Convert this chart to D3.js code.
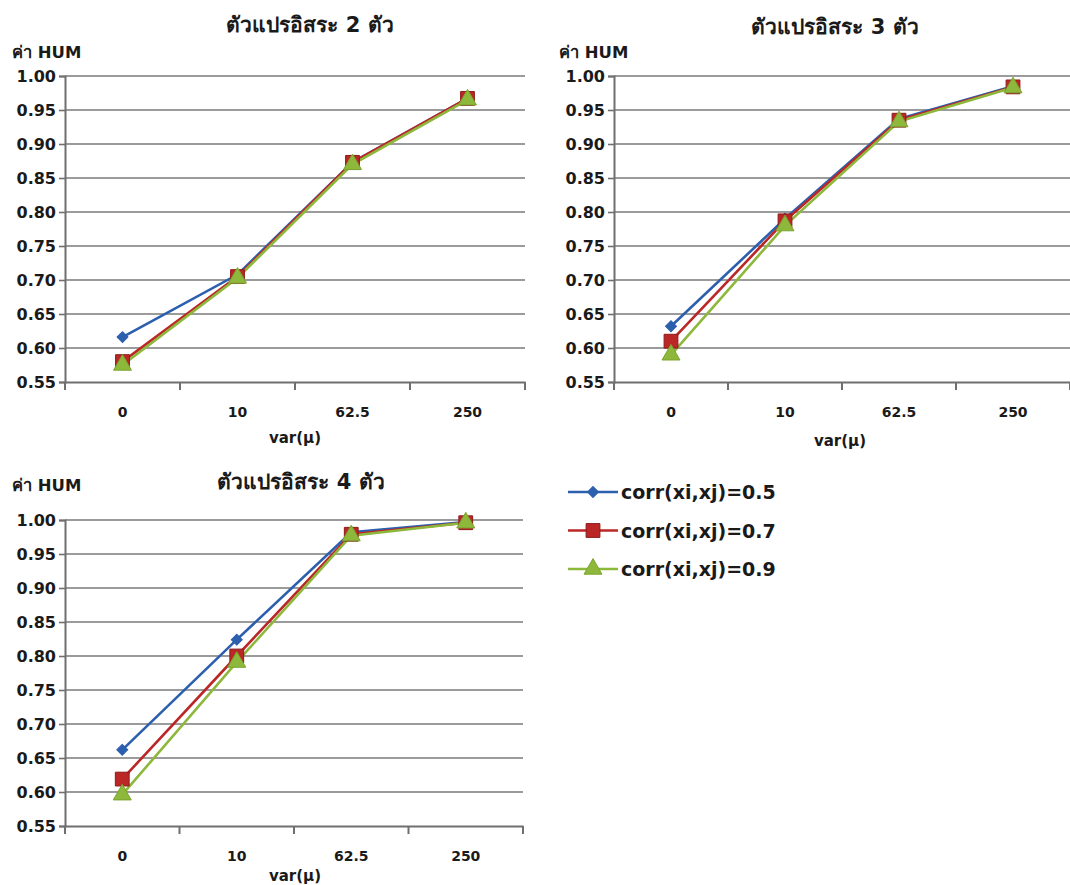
<!DOCTYPE html>
<html>
<head>
<meta charset="utf-8">
<script src="https://cdn.jsdelivr.net/npm/d3@7"></script>
<style>
  html, body { margin: 0; padding: 0; background: #fff; }
  svg { display: block; }
  text { font-family: "DejaVu Sans", "Noto Sans", sans-serif; fill: #1a1a1a; }
</style>
</head>
<body>
<svg id="chart" width="1070" height="885"></svg>
<script>
// Categories on the x axis: variance of mu
const categories = ["0", "10", "62.5", "250"];
const yTicks = [0.55, 0.60, 0.65, 0.70, 0.75, 0.80, 0.85, 0.90, 0.95, 1.00];
const seriesNames = ["corr(xi,xj)=0.5", "corr(xi,xj)=0.7", "corr(xi,xj)=0.9"];

// HUM values, 2 independent variables
const hum2_r05 = [0.616, 0.708, 0.873, 0.967];
const hum2_r07 = [0.580, 0.705, 0.873, 0.967];
const hum2_r09 = [0.575, 0.703, 0.870, 0.965];

// HUM values, 3 independent variables
const hum3_r05 = [0.632, 0.790, 0.937, 0.985];
const hum3_r07 = [0.610, 0.787, 0.935, 0.984];
const hum3_r09 = [0.590, 0.780, 0.933, 0.983];

// HUM values, 4 independent variables
const hum4_r05 = [0.662, 0.824, 0.982, 0.997];
const hum4_r07 = [0.619, 0.800, 0.979, 0.996];
const hum4_r09 = [0.596, 0.791, 0.977, 0.996];

const titles = ["ตัวแปรอิสระ 2 ตัว", "ตัวแปรอิสระ 3 ตัว", "ตัวแปรอิสระ 4 ตัว"];

const colors = ["#2c5fae", "#bb2727", "#8db83c"];
const strokes = ["#2c5fae", "#8e1a1a", "#7aa52e"];

// marker generators: rotated square (diamond), square, triangle
const markers = [
  sel => sel.attr("d", d3.symbol().type(d3.symbolSquare).size(60)()).attr("data-rot", 45),
  sel => sel.attr("d", d3.symbol().type(d3.symbolSquare).size(190)()).attr("data-rot", 0),
  sel => sel.attr("d", d3.symbol().type(d3.symbolTriangle).size(140)()).attr("data-rot", 0)
];

const svg = d3.select("#chart");

const panels = [
  { data: [hum2_r05, hum2_r07, hum2_r09], title: titles[0],
    x0: 65, x1: 525, yTop: 76, yBot: 382,
    titleX: 310, titleY: 32, yLabX: 12, yLabY: 58, xLabX: 295, xLabY: 443 },
  { data: [hum3_r05, hum3_r07, hum3_r09], title: titles[1],
    x0: 614, x1: 1070, yTop: 76, yBot: 382,
    titleX: 835, titleY: 34, yLabX: 559, yLabY: 58, xLabX: 840, xLabY: 446 },
  { data: [hum4_r05, hum4_r07, hum4_r09], title: titles[2],
    x0: 65, x1: 523, yTop: 520, yBot: 826,
    titleX: 301, titleY: 489, yLabX: 12, yLabY: 491, xLabX: 295, xLabY: 881 }
];

panels.forEach(p => {
  const g = svg.append("g");
  const x = d3.scaleBand().domain(categories).range([p.x0, p.x1]);
  const y = d3.scaleLinear().domain([0.55, 1.0]).range([p.yBot, p.yTop]);

  // horizontal gridlines
  g.append("g").selectAll("line").data(yTicks.slice(1)).join("line")
    .attr("x1", p.x0).attr("x2", p.x1)
    .attr("y1", d => y(d)).attr("y2", d => y(d))
    .attr("stroke", "#7a7a7a").attr("stroke-width", 1.6);

  // y axis
  const yAxis = g.append("g").attr("transform", `translate(${p.x0},0)`)
    .call(d3.axisLeft(y).tickValues(yTicks).tickFormat(d3.format(".2f")).tickSize(6).tickPadding(3));
  yAxis.select(".domain").attr("stroke", "#6f6f6f").attr("stroke-width", 2);
  yAxis.selectAll(".tick line").attr("stroke", "#6f6f6f").attr("stroke-width", 1.6);
  yAxis.selectAll("text").style("font-size", "16px").style("font-weight", "bold").attr("fill", "#1a1a1a");

  // x axis with ticks between categories
  const xAxis = g.append("g").attr("transform", `translate(0,${p.yBot})`)
    .call(d3.axisBottom(x).tickSize(0).tickPadding(25));
  xAxis.select(".domain").attr("stroke", "#6f6f6f").attr("stroke-width", 2);
  xAxis.selectAll("text").style("font-size", "14px").style("font-weight", "bold").attr("fill", "#1a1a1a");
  const bounds = categories.map(c => x(c)).concat([p.x1]);
  xAxis.selectAll(".sep").data(bounds).join("line")
    .attr("x1", d => d).attr("x2", d => d).attr("y1", 0).attr("y2", 8)
    .attr("stroke", "#6f6f6f").attr("stroke-width", 2);

  // titles
  g.append("text").attr("x", p.titleX).attr("y", p.titleY).attr("text-anchor", "middle")
    .style("font-size", "21px").style("font-weight", "bold").text(p.title);
  g.append("text").attr("x", p.yLabX).attr("y", p.yLabY)
    .style("font-size", "16.5px").style("font-weight", "bold").text("ค่า HUM");
  g.append("text").attr("x", p.xLabX).attr("y", p.xLabY).attr("text-anchor", "middle")
    .style("font-size", "15px").style("font-weight", "bold").text("var(μ)");

  const cx = i => x(categories[i]) + x.bandwidth() / 2;
  const line = d3.line().x((d, i) => cx(i)).y(d => y(d));

  p.data.forEach((vals, s) => {
    g.append("path").datum(vals).attr("d", line)
      .attr("fill", "none").attr("stroke", colors[s]).attr("stroke-width", 2.6);
  });
  p.data.forEach((vals, s) => {
    g.append("g").selectAll("path").data(vals).join("path")
      .call(markers[s])
      .attr("transform", function (d, i) {
        return `translate(${cx(i)},${y(d)}) rotate(${this.getAttribute("data-rot")})`;
      })
      .attr("fill", colors[s]).attr("stroke", strokes[s]).attr("stroke-width", 1);
  });
});

// legend
const legend = svg.append("g");
seriesNames.forEach((name, s) => {
  const ly = 492 + s * 38.5;
  legend.append("line").attr("x1", 568).attr("x2", 618).attr("y1", ly).attr("y2", ly)
    .attr("stroke", colors[s]).attr("stroke-width", 2.6);
  legend.append("path").call(markers[s])
    .attr("transform", function () { return `translate(593,${ly}) rotate(${this.getAttribute("data-rot")})`; })
    .attr("fill", colors[s]).attr("stroke", strokes[s]).attr("stroke-width", 1);
  legend.append("text").attr("x", 621).attr("y", ly + 7)
    .style("font-size", "19px").style("font-weight", "bold").text(name);
});
</script>
</body>
</html>
